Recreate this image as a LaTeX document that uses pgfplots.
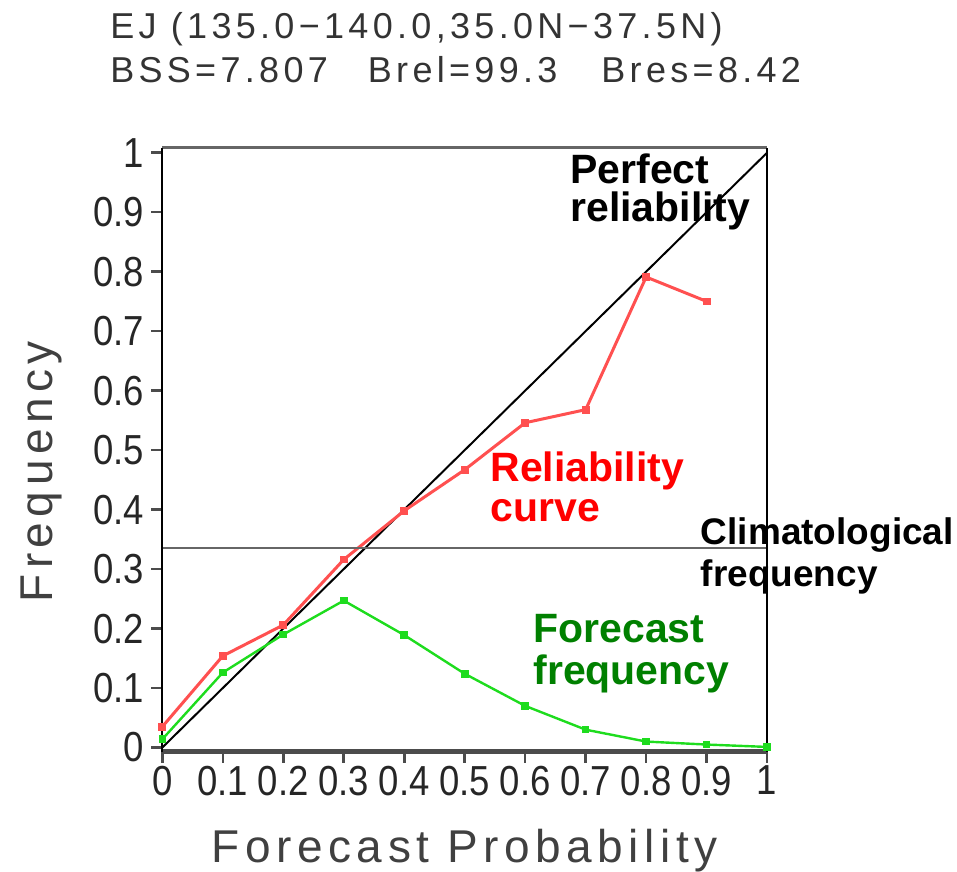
\documentclass[border=0pt]{standalone}
\usepackage{pgfplots}
\pgfplotsset{compat=1.18}
\usepackage{fontspec}
\setmainfont{Liberation Sans}
\newfontfamily\gr[LetterSpace=12]{Liberation Sans}
\newfontfamily\grt[FakeStretch=0.87]{Liberation Sans}

\definecolor{relred}{RGB}{255,80,80}
\definecolor{fcgreen}{RGB}{30,220,30}
\definecolor{txtgreen}{RGB}{0,128,0}

\begin{document}
\begin{tikzpicture}
\begin{axis}[
    name=ax,
    scale only axis,
    width=302.5pt,
    height=302pt,
    xmin=0, xmax=1,
    ymin=-0.007, ymax=1.008,
    clip=false,
    axis line style={draw=none},
    xtick={0,0.1,0.2,0.3,0.4,0.5,0.6,0.7,0.8,0.9,1},
    xticklabels={0,0.1,0.2,0.3,0.4,0.5,0.6,0.7,0.8,0.9,1},
    ytick={0,0.1,0.2,0.3,0.4,0.5,0.6,0.7,0.8,0.9,1},
    yticklabels={0,0.1,0.2,0.3,0.4,0.5,0.6,0.7,0.8,0.9,1},
    tick pos=left,
    tick align=outside,
    major tick length=5.5pt,
    tick style={black!70, line width=1.3pt},
    ticklabel style={font=\grt\fontsize{21}{21}\selectfont, text=black!85},
    xticklabel style={yshift=2pt},
    xlabel={Forecast Probability},
    ylabel={Frequency},
    label style={font=\gr\fontsize{23}{23}\selectfont, text=black!75},
    xlabel style={at={(axis description cs:0.5,-0.184)}, anchor=base},
    ylabel style={at={(axis description cs:-0.181,0.4636)}, anchor=base},
]
% perfect reliability diagonal
\addplot[black, line width=1pt] coordinates {(0,0) (1,1)};
% reliability curve
\addplot[relred, line width=1.5pt, mark=square*, mark size=1.2pt] coordinates {
(0,0.035) (0.1,0.154) (0.2,0.206) (0.3,0.316) (0.4,0.398)
(0.5,0.467) (0.6,0.546) (0.7,0.568) (0.8,0.791) (0.9,0.750)
};
% forecast frequency
\addplot[fcgreen, line width=1.2pt, mark=square*, mark size=1.3pt] coordinates {
(0,0.014) (0.1,0.126) (0.2,0.190) (0.3,0.247) (0.4,0.189)
(0.5,0.124) (0.6,0.070) (0.7,0.030) (0.8,0.010) (0.9,0.005) (1.0,0.001)
};
% climatological frequency
\addplot[black!60, line width=1.2pt] coordinates {(0,0.335) (1,0.335)};

% frame
\draw[black!70, line width=2.2pt] (rel axis cs:0,0) -- (rel axis cs:1,0);
\draw[black!60, line width=1.5pt] (rel axis cs:0,1) -- (rel axis cs:1,1);
\draw[black, line width=1pt] (rel axis cs:0,0) -- (rel axis cs:0,1);
\draw[black, line width=1pt] (rel axis cs:1,0) -- (rel axis cs:1,1);

% annotations
\begin{scope}[every node/.style={inner sep=0pt, anchor=base west, font=\bfseries\fontsize{20.5}{20.5}\selectfont}]
\node at (axis cs:0.674,0.949) {Perfect};
\node at (axis cs:0.674,0.884) {reliability};
\node[text=red] at (axis cs:0.542,0.447) {Reliability};
\node[text=red] at (axis cs:0.542,0.380) {curve};
\node[text=txtgreen] at (axis cs:0.613,0.176) {Forecast};
\node[text=txtgreen] at (axis cs:0.613,0.1055) {frequency};
\node[font=\bfseries\fontsize{18.5}{18.5}\selectfont] at (axis cs:0.890,0.341) {Climatological};
\node[font=\bfseries\fontsize{18.5}{18.5}\selectfont] at (axis cs:0.890,0.271) {frequency};
\end{scope}

% title
\begin{scope}[every node/.style={inner sep=0pt, anchor=base west, text=black!80, font=\gr\fontsize{18}{18}\selectfont}]
\node at (axis description cs:-0.0867,1.1805) {EJ (135.0−140.0,35.0N−37.5N)};
\node at (axis description cs:-0.0867,1.1076) {BSS=7.807\hspace{20pt}Brel=99.3\hspace{22pt}Bres=8.42};
\end{scope}
\end{axis}
\pgfresetboundingbox
\path ([xshift=-81.2pt,yshift=-60pt]ax.south west) rectangle ([xshift=95pt,yshift=74pt]ax.north east);
\end{tikzpicture}
\end{document}
